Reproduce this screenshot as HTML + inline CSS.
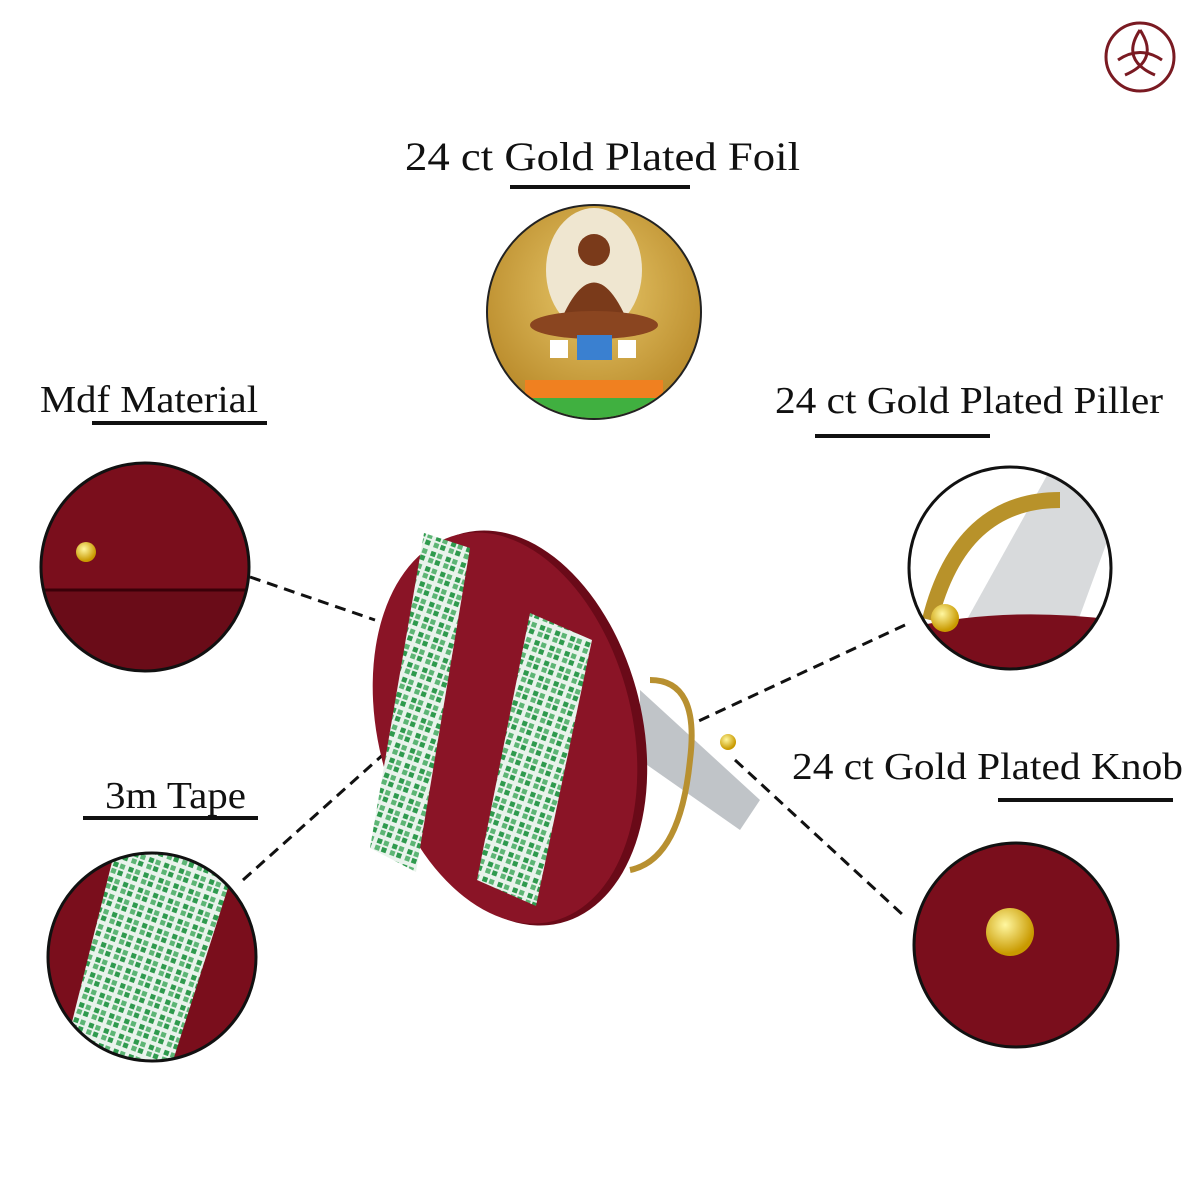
<!DOCTYPE html>
<html><head><meta charset="utf-8"><style>
body{margin:0;background:#fff;width:1200px;height:1200px;overflow:hidden}
svg{display:block}
text{font-family:"Liberation Serif",serif;fill:#111}
</style></head><body>
<svg width="1200" height="1200" viewBox="0 0 1200 1200">
<defs>
<pattern id="chk" width="16" height="16" patternUnits="userSpaceOnUse" patternTransform="rotate(20)">
<rect width="16" height="16" fill="#e9f3ec"/>
<rect x="2" y="2" width="5" height="5" fill="#2f9a4e"/>
<rect x="9" y="9" width="5" height="5" fill="#2f9a4e"/>
<rect x="9" y="2" width="5" height="5" fill="#5db575"/>
<rect x="2" y="9" width="5" height="5" fill="#5db575"/>
</pattern>
<radialGradient id="gold" cx="50%" cy="40%" r="60%"><stop offset="0" stop-color="#e8c86a"/><stop offset="1" stop-color="#b98a2a"/></radialGradient>
<radialGradient id="knob" cx="40%" cy="35%" r="60%"><stop offset="0" stop-color="#fff7a0"/><stop offset="1" stop-color="#c99a00"/></radialGradient>
<clipPath id="cf"><circle cx="594" cy="312" r="106"/></clipPath>
</defs>
<!-- logo -->
<circle cx="1140" cy="57" r="34" fill="none" stroke="#7a1a22" stroke-width="3"/>
<path d="M1140 30 Q1160 60 1125 75 M1140 30 Q1120 60 1155 75 M1118 60 Q1140 45 1162 60" fill="none" stroke="#7a1a22" stroke-width="3"/>

<text x="405" y="170" font-size="40" textLength="395" lengthAdjust="spacingAndGlyphs">24 ct Gold Plated Foil</text>
<rect x="510" y="185" width="180" height="4" fill="#111"/>
<text x="40" y="412" font-size="38" textLength="218" lengthAdjust="spacingAndGlyphs">Mdf Material</text>
<rect x="92" y="421" width="175" height="4" fill="#111"/>
<text x="775" y="413" font-size="38" textLength="388" lengthAdjust="spacingAndGlyphs">24 ct Gold Plated Piller</text>
<rect x="815" y="434" width="175" height="4" fill="#111"/>
<text x="105" y="808" font-size="38" textLength="141" lengthAdjust="spacingAndGlyphs">3m Tape</text>
<rect x="83" y="816" width="175" height="4" fill="#111"/>
<text x="792" y="779" font-size="38" textLength="391" lengthAdjust="spacingAndGlyphs">24 ct Gold Plated Knob</text>
<rect x="998" y="798" width="175" height="4" fill="#111"/>

<!-- foil -->
<circle cx="594" cy="312" r="107" fill="url(#gold)" stroke="#222" stroke-width="2"/>
<g clip-path="url(#cf)">
<ellipse cx="594" cy="270" rx="48" ry="62" fill="#efe6d0"/>
<path d="M555 335 Q594 230 633 335 Z" fill="#7a3a1a"/>
<ellipse cx="594" cy="325" rx="64" ry="14" fill="#8a4520"/>
<circle cx="594" cy="250" r="16" fill="#7a3a1a"/>
<rect x="525" y="380" width="138" height="18" fill="#f08020"/>
<rect x="525" y="398" width="138" height="25" fill="#40b040"/>
<rect x="577" y="335" width="35" height="25" fill="#3a80d0"/>
<rect x="550" y="340" width="18" height="18" fill="#fff"/><rect x="618" y="340" width="18" height="18" fill="#fff"/>
</g>

<!-- dashed lines -->
<g stroke="#111" stroke-width="3" stroke-dasharray="11 7" fill="none">
<line x1="250" y1="577" x2="375" y2="620"/>
<line x1="243" y1="880" x2="405" y2="735"/>
<line x1="905" y1="625" x2="690" y2="725"/>
<line x1="735" y1="760" x2="903" y2="915"/>
</g>

<!-- main product -->
<path d="M640 690 L760 800 L740 830 L640 760 Z" fill="#c0c4c8"/>
<path d="M650 680 Q700 680 690 760 Q680 860 630 870" fill="none" stroke="#b89030" stroke-width="6"/>
<circle cx="728" cy="742" r="8" fill="url(#knob)"/>
<ellipse cx="512" cy="728" rx="130" ry="201" transform="rotate(-14 512 728)" fill="#6a0a18"/>
<ellipse cx="505" cy="728" rx="127" ry="199" transform="rotate(-14 505 728)" fill="#8a1426"/>
<polygon points="424,533 470,548 416,872 370,848" fill="url(#chk)"/>
<polygon points="530,613 592,640 536,906 477,880" fill="url(#chk)"/>

<!-- detail circles -->
<clipPath id="c1"><circle cx="145" cy="567" r="104"/></clipPath>
<circle cx="145" cy="567" r="104" fill="#7a0e1c"/>
<g clip-path="url(#c1)"><rect x="40" y="590" width="220" height="90" fill="#6a0c18"/><line x1="40" y1="590" x2="260" y2="590" stroke="#3a0008" stroke-width="3"/></g>
<circle cx="86" cy="552" r="10" fill="url(#knob)"/>
<circle cx="145" cy="567" r="104" fill="none" stroke="#111" stroke-width="3"/>

<clipPath id="c2"><circle cx="1010" cy="568" r="101"/></clipPath>
<circle cx="1010" cy="568" r="101" fill="#fff"/>
<g clip-path="url(#c2)">
<polygon points="1050,470 1115,520 1060,670 950,650" fill="#d8dadc"/>
<path d="M930 620 Q960 500 1060 500" fill="none" stroke="#b8922a" stroke-width="16"/>
<path d="M900 630 Q1000 605 1115 620 L1115 680 L900 680 Z" fill="#7a0e1c"/>
<circle cx="945" cy="618" r="14" fill="url(#knob)"/>
</g>
<circle cx="1010" cy="568" r="101" fill="none" stroke="#111" stroke-width="3"/>

<clipPath id="c3"><circle cx="152" cy="957" r="104"/></clipPath>
<circle cx="152" cy="957" r="104" fill="#7a0e1c"/>
<g clip-path="url(#c3)"><polygon points="115,850 240,850 170,1070 60,1070" fill="url(#chk)"/></g>
<circle cx="152" cy="957" r="104" fill="none" stroke="#111" stroke-width="3"/>

<circle cx="1016" cy="945" r="102" fill="#7a0e1c" stroke="#111" stroke-width="3"/>
<circle cx="1010" cy="932" r="24" fill="url(#knob)"/>
</svg>
</body></html>
